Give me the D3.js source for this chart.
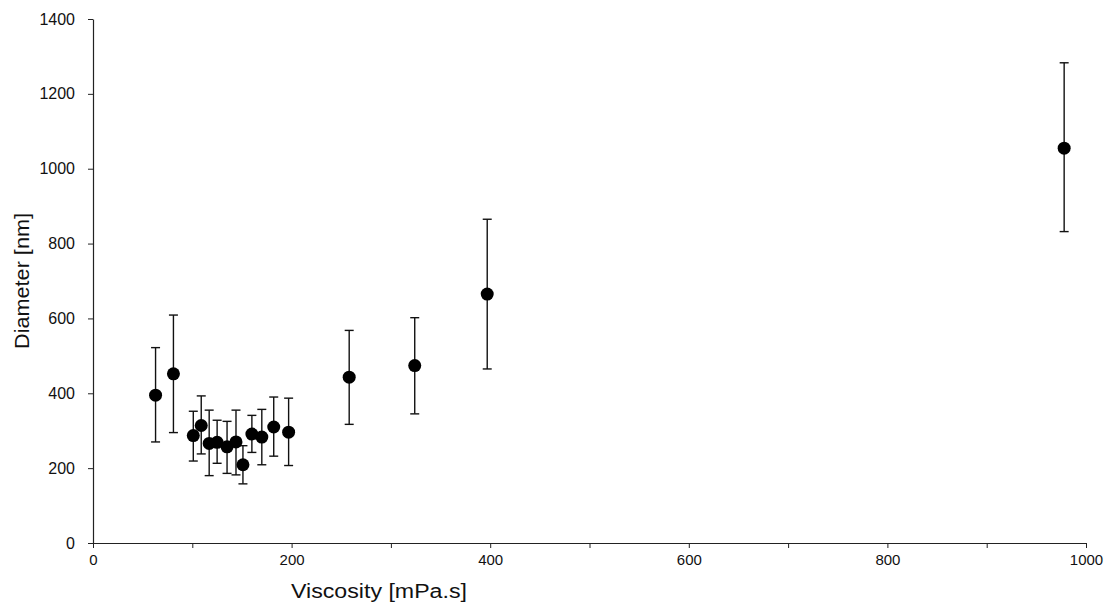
<!DOCTYPE html>
<html>
<head>
<meta charset="utf-8">
<script src="https://cdn.jsdelivr.net/npm/d3@7"></script>
<style>
  body { margin: 0; background: #fff; }
  text { font-family: "Liberation Sans", Arial, sans-serif; }
</style>
</head>
<body>
<svg id="scatter" width="1119" height="605"></svg>
<script>
// viscosity [mPa.s]
const viscosity = [63, 81, 101, 109, 117, 125, 135, 144, 151, 160, 170, 182, 197, 258, 324, 397, 978];
// mean diameter [nm]
const diameter = [395, 452, 287, 314, 266, 269, 257, 270, 209, 291, 283, 310, 296, 443, 474, 665, 1055];
// error bar bounds
const upper = [522, 609, 352, 393, 355, 328, 325, 355, 260, 341, 357, 390, 387, 568, 602, 865, 1283];
const lower = [270, 295, 219, 238, 180, 213, 186, 182, 158, 242, 209, 232, 207, 317, 345, 465, 832];

const xTicks = [0, 200, 400, 600, 800, 1000];
const xMinor = [100, 300, 500, 700, 900];
const yTicks = [0, 200, 400, 600, 800, 1000, 1200, 1400];

function drawScatter() {
  let svg = d3.select("#scatter"),
      margin = {top: 19, right: 33, bottom: 62, left: 93},
      width = +svg.attr("width") - margin.left - margin.right,
      height = +svg.attr("height") - margin.top - margin.bottom,
      g = svg.append("g").attr("transform", "translate(" + margin.left + "," + margin.top + ")");

  let data = viscosity.map((v, i) => ({x: v, y: diameter[i], hi: upper[i], lo: lower[i]}));

  let x = d3.scaleLinear().domain([0, 1000]).range([0, width]);
  let y = d3.scaleLinear().domain([0, 1400]).range([height, 0]);

  // minor ticks on x axis
  g.append("g")
    .attr("transform", "translate(0," + height + ")")
    .call(d3.axisBottom(x).tickValues(xMinor).tickSize(5).tickFormat(""))
    .call(a => a.select(".domain").remove())
    .selectAll("line").attr("stroke", "#222");

  let xAxis = g.append("g")
    .attr("class", "x axis")
    .attr("transform", "translate(0," + height + ")")
    .call(d3.axisBottom(x).tickValues(xTicks).tickFormat(d3.format("d"))
      .tickSize(5).tickSizeOuter(0).tickPadding(6));

  let yAxis = g.append("g")
    .attr("class", "y axis")
    .call(d3.axisLeft(y).tickValues(yTicks).tickFormat(d3.format("d"))
      .tickSize(5).tickSizeOuter(0).tickPadding(13));

  [xAxis, yAxis].forEach(a => {
    a.attr("font-family", null).attr("font-size", null);
    a.select(".domain").attr("stroke", "#222").attr("stroke-width", 1.2);
    a.selectAll("line").attr("stroke", "#222");
    a.selectAll("text").attr("fill", "#111");
  });
  xAxis.selectAll("text").style("font-size", "15px");
  yAxis.selectAll("text").style("font-size", "16px");

  // error bars
  let bars = g.selectAll(".err").data(data).enter().append("g").attr("class", "err")
    .attr("stroke", "#111").attr("stroke-width", 1.4);
  bars.append("line")
    .attr("x1", d => x(d.x)).attr("x2", d => x(d.x))
    .attr("y1", d => y(d.hi)).attr("y2", d => y(d.lo));
  bars.append("line")
    .attr("x1", d => x(d.x) - 4.5).attr("x2", d => x(d.x) + 4.5)
    .attr("y1", d => y(d.hi)).attr("y2", d => y(d.hi));
  bars.append("line")
    .attr("x1", d => x(d.x) - 4.5).attr("x2", d => x(d.x) + 4.5)
    .attr("y1", d => y(d.lo)).attr("y2", d => y(d.lo));

  // points
  g.selectAll(".point").data(data).enter().append("circle")
    .attr("class", "point")
    .attr("cx", d => x(d.x))
    .attr("cy", d => y(d.y))
    .attr("r", 6.5)
    .style("fill", "#000");

  // axis titles
  svg.append("text")
    .attr("x", margin.left + x(288)).attr("y", 598)
    .attr("text-anchor", "middle")
    .attr("textLength", 176).attr("lengthAdjust", "spacingAndGlyphs")
    .style("font-size", "20px").attr("fill", "#111")
    .text("Viscosity [mPa.s]");

  svg.append("text")
    .attr("transform", "translate(29," + (margin.top + y(700)) + ") rotate(-90)")
    .attr("text-anchor", "middle")
    .attr("textLength", 136).attr("lengthAdjust", "spacingAndGlyphs")
    .style("font-size", "20px").attr("fill", "#111")
    .text("Diameter [nm]");
}

drawScatter();
</script>
</body>
</html>
